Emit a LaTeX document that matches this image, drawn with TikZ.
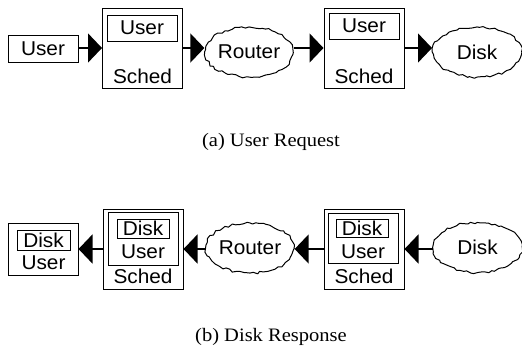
\documentclass[tikz,border=0pt]{standalone}
\usepackage{fontspec}
\setmainfont[FakeStretch=1.08]{Liberation Serif}
\setsansfont[FakeStretch=1.04]{Liberation Sans}
\usetikzlibrary{arrows.meta, positioning, calc, shapes.geometric, decorations.pathmorphing}

\begin{document}
\pgfmathsetseed{7}
\begin{tikzpicture}[
  x=1pt, y=-1pt,
  lbl/.style      = {font=\sffamily\fontsize{20}{20}\selectfont, inner sep=0pt},
  box/.style      = {rectangle, draw, line width=1pt, lbl},
  schedbox/.style = {box, minimum width=80pt, minimum height=80pt},
  cloudy/.style   = {ellipse, draw, line width=1pt, lbl, line join=round,
                      minimum width=86pt, minimum height=50pt,
                      decorate, decoration={random steps, segment length=3.5pt, amplitude=1.2pt}},
  arr/.style      = {-{Triangle[length=14pt, width=29pt]}, line width=1.6pt},
  subcap/.style   = {font=\rmfamily\fontsize{19}{19}\selectfont, inner sep=0pt},
]
\useasboundingbox (0,0) rectangle (522,354);

%% (a) user request
\node[box, minimum width=70pt, minimum height=27pt] (u1) at (43,48.5) {User};

\node[schedbox] (s1) at (142.5,48) {};
\node[box, minimum width=70pt, minimum height=26pt] (s1u) at (142,28) {User};
\node[lbl] (s1t) at (142.5,76) {Sched};

\node[cloudy] (r1) at (249,52) {Router};

\node[schedbox] (s2) at (364,48) {};
\node[box, minimum width=70pt, minimum height=26pt] (s2u) at (364,26) {User};
\node[lbl] (s2t) at (364,76) {Sched};

\node[cloudy, minimum width=89pt] (d1) at (477,52) {Disk};

\draw[arr] (u1.east |- s1.west) -- (s1.west);
\draw[arr] (s1.east) -- (s1.east -| r1.west);
\draw[arr] (r1.east |- s2.west) -- (s2.west);
\draw[arr] (s2.east) -- (s2.east -| d1.west);

\node[subcap] (capa) at (271,142) {(a) User Request};

%% (b) disk response
\node[box, minimum width=70pt, minimum height=52pt] (u2) at (43,249) {};
\node[box, minimum width=53pt, minimum height=20pt] (u2d) at (43.5,240) {Disk};
\node[lbl] (u2t) at (43.5,263) {User};

\node[schedbox] (s3) at (143,249) {};
\node[box, minimum width=70pt, minimum height=53pt] (s3i) at (143,238.5) {};
\node[box, minimum width=52pt, minimum height=19pt] (s3d) at (143,228.5) {Disk};
\node[lbl] (s3u) at (143,252) {User};
\node[lbl] (s3t) at (143,276) {Sched};

\node[cloudy] (r2) at (250,248) {Router};

\node[schedbox] (s4) at (364,249) {};
\node[box, minimum width=70pt, minimum height=50pt] (s4i) at (363,238) {};
\node[box, minimum width=52pt, minimum height=18pt] (s4d) at (362,228) {Disk};
\node[lbl] (s4u) at (363,252) {User};
\node[lbl] (s4t) at (364,276) {Sched};

\node[cloudy, minimum width=89pt] (d2) at (477.5,247.5) {Disk};

\draw[arr] (s3.west) -- (s3.west -| u2.east);
\draw[arr] (r2.west |- s3.east) -- (s3.east);
\draw[arr] (s4.west) -- (s4.west -| r2.east);
\draw[arr] (d2.west |- s4.east) -- (s4.east);

\node[subcap] (capb) at (271,337) {(b) Disk Response};

\end{tikzpicture}
\end{document}
